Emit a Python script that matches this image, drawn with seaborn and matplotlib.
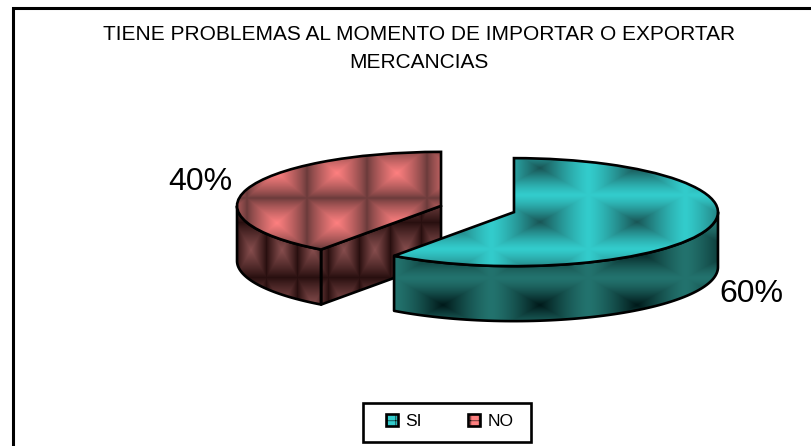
"""
Exploded 3D-look pie: squashed ax.pie wedges with extruded side faces.
"""
import numpy as np
import matplotlib
matplotlib.use("Agg")
import matplotlib.pyplot as plt
import seaborn as sns
from matplotlib.patches import Patch, Polygon, Rectangle

sns.set_style("white")
plt.rcParams['font.family'] = ['Liberation Sans', 'DejaVu Sans']
plt.rcParams['hatch.linewidth'] = 0.4

TITLE = "TIENE PROBLEMAS AL MOMENTO DE IMPORTAR O EXPORTAR\nMERCANCIAS"
categories = ["SI", "NO"]
values = [60, 40]
explode = [0.188, 0.188]
pie_colors = ["#33CCCC", "#FF8080"]

W, H = 812, 446
# pie centre and radii in pixels, the axes covers the whole figure
CX, CY, RX, RY = 477.5, 209.0, 204.0, 54.0
DEPTH = 55.0 / RY
EDGE = 1.9


def to_x(px):
    return (px - CX) / RX


def to_y(py):
    return (CY - py) / RY


def tile_texture(x0, dx, y0, dy, center, edge, gamma=1.0):
    # square pyramid tiles, t = 1 in the tile centre and 0 on its border
    xx, yy = np.meshgrid(np.arange(W) + 0.5, np.arange(H) + 0.5)
    u = np.abs(((xx - x0) / dx + 0.5) % 1 - 0.5) * 2
    v = np.abs(((yy - y0) / dy + 0.5) % 1 - 0.5) * 2
    t = (1 - np.maximum(u, v))[..., None] ** gamma
    c = np.array(center, dtype=float)
    e = np.array(edge, dtype=float)
    return ((e + (c - e) * t) / 255).clip(0, 1)


def paint(ax, tex, patch, z):
    xlim, ylim = (to_x(0), to_x(W)), (to_y(H), to_y(0))
    im = ax.imshow(tex, extent=(*xlim, *ylim), origin="upper",
                   aspect="auto", zorder=z, interpolation="bilinear")
    im.set_clip_path(patch)


def side_face(ax, pts, tex, z):
    poly = Polygon(pts, closed=True, facecolor="none", edgecolor="black",
                   lw=EDGE, joinstyle="round", zorder=z + 0.1)
    ax.add_patch(poly)
    paint(ax, tex, poly, z)


def rim(wedge, a0, a1):
    a = np.radians(np.linspace(a0, a1, 80))
    cx, cy = wedge.center
    return np.column_stack([cx + wedge.r * np.cos(a), cy + wedge.r * np.sin(a)])


def extrude(top):
    low = top - [0, DEPTH]
    return np.vstack([top, low[::-1]])


fig, ax = plt.subplots(figsize=(W / 100, H / 100), dpi=100)
fig.subplots_adjust(0, 0, 1, 1)

wedges, _ = ax.pie(values, explode=explode, startangle=90, counterclock=False,
                   colors=pie_colors, radius=1.0,
                   wedgeprops=dict(edgecolor="black", linewidth=EDGE))
teal, pink = wedges

teal_top = tile_texture(540, 97, 168, 54, (25, 85, 85), (51, 204, 204), 1.3)
teal_side = tile_texture(443, 97, 305, 54, (0, 25, 25), (35, 115, 110), 1.4)
pink_top = tile_texture(277, 60, 173, 50, (255, 128, 128), (105, 58, 58), 0.8)
pink_side = tile_texture(282, 31, 250, 55, (135, 78, 78), (40, 15, 15), 0.9)

# pink slice first, the teal one overlaps it
a1 = max(pink.theta1 % 360, pink.theta2 % 360)
side_face(ax, extrude(rim(pink, 180, a1)), pink_side, 1)
corner = rim(pink, a1, a1)[:1]
cut = np.vstack([corner, [pink.center]])
side_face(ax, extrude(cut), pink_side, 1)
pink.set_zorder(2.1)
pink.set_facecolor("none")
paint(ax, pink_top, pink, 2)

side_face(ax, extrude(rim(teal, teal.theta1, 0)), teal_side, 3)
teal.set_zorder(4.1)
teal.set_facecolor("none")
paint(ax, teal_top, teal, 4)

ax.set_aspect("auto")
ax.set_xlim(to_x(0), to_x(W))
ax.set_ylim(to_y(H), to_y(0))
ax.set_position([0, 0, 1, 1])

# chart frame, runs off the canvas on the right and at the bottom
ax.add_patch(Rectangle((to_x(12.5), to_y(H + 40)), to_x(W + 40) - to_x(12.5),
                       to_y(7.5) - to_y(H + 40), facecolor="none",
                       edgecolor="black", lw=2.2, zorder=0))

ax.text(to_x(200), to_y(182), f"{values[1]}%", ha="center", va="center",
        fontsize=23, color="black", zorder=6)
ax.text(to_x(751), to_y(294), f"{values[0]}%", ha="center", va="center",
        fontsize=23, color="black", zorder=6)

fig.text(419 / W, 1 - 49 / H, TITLE, ha="center", va="center", fontsize=15,
         linespacing=1.6, color="black")

# legend box
ax.add_patch(Rectangle((to_x(362.5), to_y(441.5)), to_x(531) - to_x(362.5),
                       to_y(403) - to_y(441.5), facecolor="white",
                       edgecolor="black", lw=1.9, zorder=6))
handles = [Patch(facecolor=c, edgecolor="black", lw=1.9, hatch="++")
           for c in pie_colors]
leg = ax.legend(handles, categories, ncol=2, loc="center",
                bbox_to_anchor=(449.5 / W, 1 - 421.5 / H), frameon=False,
                labelcolor="black", fontsize=12.5,
                handlelength=0.7, handleheight=0.7, handletextpad=0.4,
                columnspacing=2.7, borderpad=0, borderaxespad=0)
leg.set_zorder(7)

plt.savefig("out.png", dpi=100)
plt.close()
